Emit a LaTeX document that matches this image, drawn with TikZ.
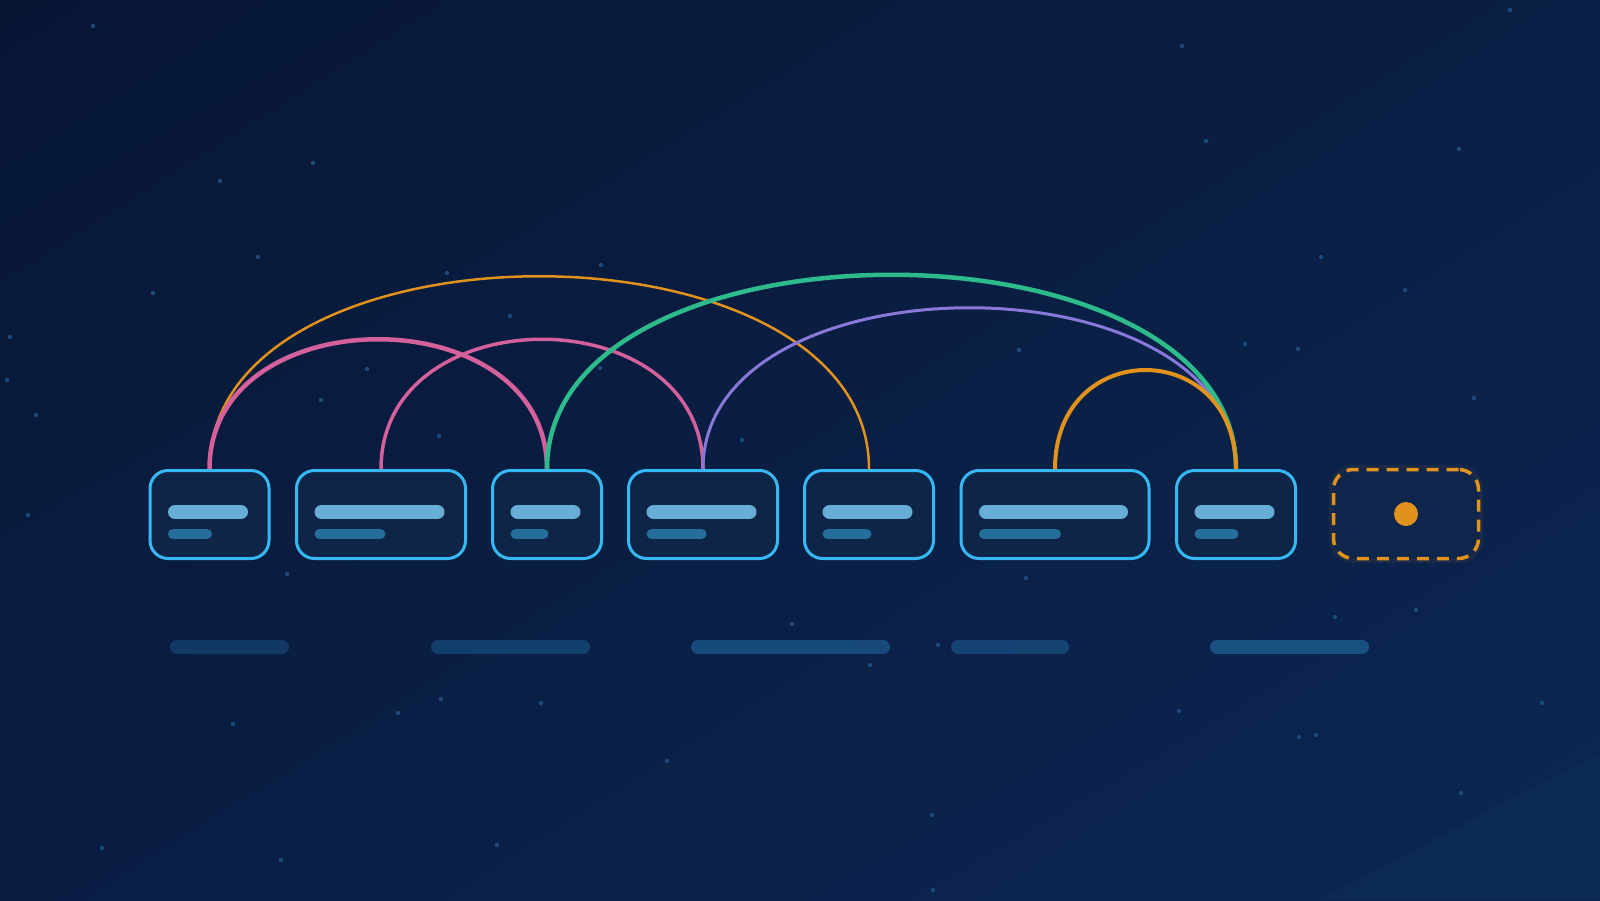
\documentclass[tikz,border=0pt]{standalone}
\usetikzlibrary{shadings}
\definecolor{bgtl}{HTML}{081634}
\definecolor{bgtr}{HTML}{0A1F45}
\definecolor{bgbl}{HTML}{0A1E44}
\definecolor{bgbr}{HTML}{0C2753}
\definecolor{boxline}{HTML}{36B8F2}
\definecolor{boxfill}{HTML}{0F2548}
\definecolor{barlight}{HTML}{66AED6}
\definecolor{bardark}{HTML}{256D9B}
\definecolor{linkorange}{HTML}{E0921C}
\definecolor{linkpink}{HTML}{D4609C}
\definecolor{linkgreen}{HTML}{2DBB8C}
\definecolor{linkpurple}{HTML}{8878DA}
\definecolor{pillblue}{HTML}{1A5588}
\definecolor{stardot}{HTML}{1C4A7A}
\begin{document}
\begin{tikzpicture}[x=1pt,y=-1pt]
    \tikzstyle{block}=[draw=boxline, line width=3pt, fill=boxfill, rounded corners=18pt, minimum height=88pt, inner sep=0pt]
    \tikzstyle{titlebar}=[draw=barlight, line width=14pt, line cap=round]
    \tikzstyle{subbar}=[draw=bardark, line width=10pt, line cap=round]
    \tikzstyle{link}=[line width=2.5pt]
    \tikzstyle{pill}=[draw=pillblue, line width=14pt, line cap=round]
    \tikzstyle{slotbox}=[draw=linkorange, line width=3.5pt, dash pattern=on 12pt off 8pt, fill=boxfill!70!bgbr, rounded corners=20pt, minimum width=145pt, minimum height=89pt, inner sep=0pt]

    % Background
    \useasboundingbox (0,0) rectangle (1600,900);
    \shade[upper left=bgtl, upper right=bgtr, lower left=bgbl, lower right=bgbr] (0,0) rectangle (1600,900);
    \fill[stardot, fill opacity=0.1] (1320,900) -- (1600,753) -- (1600,900) -- cycle;

    % Add stars
    \foreach \sx/\sy in {93/26, 1182/46, 220/181, 313/163, 1206/141, 1459/149, 258/257, 10/337, 7/380, 36/415,
        439/436, 28/515, 287/574, 1245/344, 1321/257, 1474/398, 1416/610, 1335/617, 792/624, 870/665,
        938/645, 441/699, 398/713, 541/703, 233/724, 1299/737, 1316/735, 1542/703, 1461/793, 667/761,
        102/848, 281/860, 932/815, 497/845, 933/890, 1510/10, 1405/290, 1298/349, 1019/350, 1026/578,
        1179/711, 742/440, 600/368, 153/293, 367/369, 321/400, 447/273, 601/265, 510/316} {
        \fill[stardot] (\sx,\sy) circle (2.2);
    }

    % Draw blocks
    \foreach \n/\x/\w/\s in {1/209.5/119/44, 2/381/169/71, 3/547/109/38, 4/703/149/60,
        5/869/129/49, 6/1055/188/82, 7/1236/119/44} {
        \node[block, minimum width=\w pt] (b\n) at (\x,514.5) {};
        \draw[titlebar] ([shift={(26.5,-2.5)}]b\n.west) -- ++({\w-53},0);
        \draw[subbar] ([shift={(24.5,19.5)}]b\n.west) -- ++({\s-10},0);
    }

    % Add links between blocks
    \draw[link, linkorange] (b1.north) .. controls +(0,-257) and +(0,-257) .. (b5.north);
    \draw[link, linkpink, line width=4.5pt] (b1.north) .. controls +(0,-173) and +(0,-173) .. (b3.north);
    \draw[link, linkpink, line width=3.5pt] (b2.north) .. controls +(0,-173) and +(0,-173) .. (b4.north);
    \draw[link, linkpurple, line width=3pt] (b4.north) .. controls +(0,-215) and +(0,-215) .. (b7.north);
    \draw[link, linkgreen, line width=4.5pt] (b3.north) .. controls +(0,-259) and +(0,-259) .. (b7.north);
    \draw[link, linkorange, line width=4pt] (b6.north) .. controls +(0,-132) and +(0,-132) .. (b7.north);

    % Add empty slot with token
    \node[slotbox, draw opacity=0.07, line width=9pt, dash pattern=on 1pt off 0pt, fill opacity=0] at (1406,514) {};
    \node[slotbox] (slot) at (1406,514) {};
    \node[circle, fill=linkorange, minimum size=24pt, inner sep=0pt] (token) at (slot.center) {};

    % Add faded pills
    \foreach \a/\b/\o in {170/289/0.5, 431/590/0.6, 691/890/0.8, 951/1069/0.65, 1210/1369/0.9} {
        \draw[pill, draw opacity=\o] (\a+7,647) -- (\b-7,647);
    }
\end{tikzpicture}
\end{document}
